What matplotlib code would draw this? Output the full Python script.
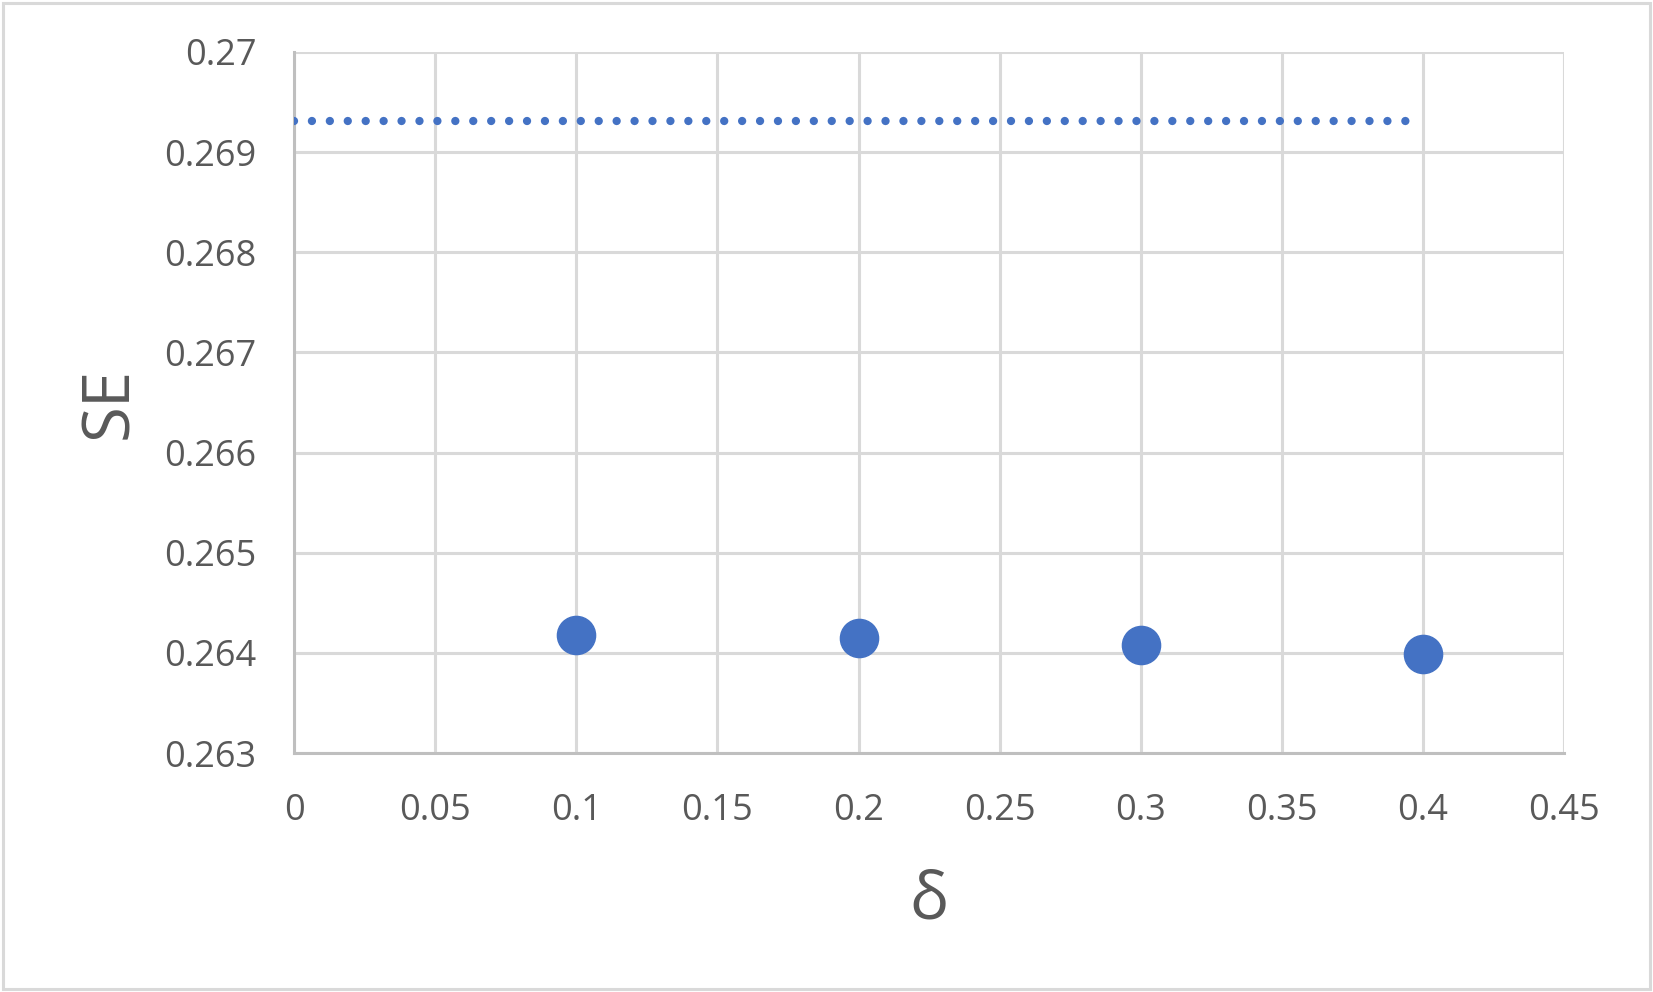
import matplotlib
matplotlib.use("Agg")
import matplotlib.pyplot as plt
from matplotlib.patches import Rectangle

delta = [0.1, 0.2, 0.3, 0.4]
se = [0.264183, 0.264145, 0.264081, 0.263993]
ref_x = [0.0, 0.4]
ref_y = [0.26931, 0.26931]
xticks = [0, 0.05, 0.1, 0.15, 0.2, 0.25, 0.3, 0.35, 0.4, 0.45]
xticklabels = ["0", "0.05", "0.1", "0.15", "0.2", "0.25", "0.3", "0.35", "0.4", "0.45"]
yticks = [0.263, 0.264, 0.265, 0.266, 0.267, 0.268, 0.269, 0.27]
yticklabels = ["0.263", "0.264", "0.265", "0.266", "0.267", "0.268", "0.269", "0.27"]

plt.rcParams['font.family'] = ['Open Sans', 'DejaVu Sans']
blue = "#4472C4"
txt = "#595959"

fig = plt.figure(figsize=(16.53, 9.92), dpi=100)
fig.patches.append(Rectangle((0.002, 0.003), 0.996, 0.994, transform=fig.transFigure,
                             fill=False, edgecolor="#D9D9D9", linewidth=2.2))
ax = fig.add_axes([0.1779, 0.2409, 0.9462 - 0.1779, 0.9476 - 0.2409])

ax.plot(ref_x, ref_y, color=blue, linewidth=6.0, linestyle=(0, (0.001, 2.15)),
        dash_capstyle='round', zorder=3)
ax.plot(delta, se, linestyle='none', marker='o', markersize=27.5, color=blue, zorder=4)

ax.set_xlim(0, 0.45)
ax.set_ylim(0.263, 0.27)
ax.set_xticks(xticks)
ax.set_xticklabels(xticklabels)
ax.set_yticks(yticks)
ax.set_yticklabels(yticklabels)
ax.grid(True, color="#D9D9D9", linewidth=2.2, zorder=0)
ax.set_axisbelow(True)
for s in ["top", "right"]:
    ax.spines[s].set_visible(False)
for s in ["left", "bottom"]:
    ax.spines[s].set_color("#BFBFBF")
    ax.spines[s].set_linewidth(2.2)
ax.tick_params(axis='both', length=0, labelsize=26, labelcolor=txt)
ax.tick_params(axis='y', pad=27)
ax.tick_params(axis='x', pad=29)
ax.set_xlabel("δ", fontsize=47, color=txt, labelpad=28)
ax.set_ylabel("SE", fontsize=47, color=txt, labelpad=15)

fig.savefig("out.png", dpi=100)
